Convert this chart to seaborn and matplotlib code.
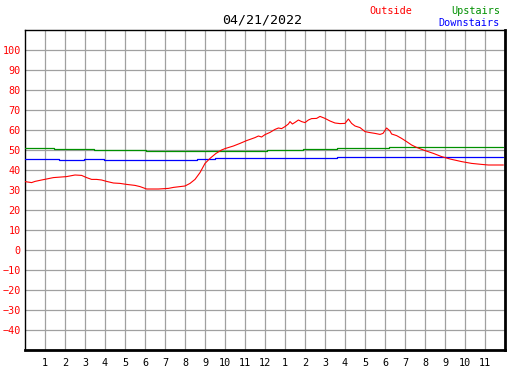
import matplotlib
matplotlib.use("Agg")
import matplotlib.pyplot as plt
import seaborn as sns
import pandas as pd

W, H = 527, 370
DPI = 100

# hours since midnight, values in deg F
outside_hours = [0.0, 0.33, 0.5, 0.83, 1.08, 1.42, 2.08, 2.5, 2.83, 3.08, 3.33, 3.58, 3.83,
                 4.08, 4.42, 4.75, 5.08, 5.5, 5.75, 6.08, 6.67, 7.17, 7.42, 8.0, 8.25, 8.5,
                 8.75, 9.0, 9.25, 9.55, 9.83, 10.0, 10.42, 10.75, 11.08, 11.5, 11.67, 11.83,
                 12.0, 12.25, 12.5, 12.67, 12.83, 13.0, 13.17, 13.25, 13.37, 13.5, 13.67,
                 13.83, 14.0, 14.17, 14.33, 14.58, 14.75, 15.0, 15.25, 15.5, 15.75, 16.0,
                 16.17, 16.33, 16.5, 16.75, 17.0, 17.25, 17.5, 17.75, 17.9, 18.08, 18.25,
                 18.33, 18.58, 18.83, 19.08, 19.33, 19.58, 20.0, 20.42, 20.83, 21.25, 21.83,
                 22.33, 22.83, 23.17, 23.92]
outside = [34.2, 33.7, 34.3, 35.0, 35.5, 36.2, 36.7, 37.5, 37.3, 36.2, 35.3, 35.3, 35.0,
           34.3, 33.5, 33.3, 32.8, 32.3, 31.7, 30.5, 30.5, 30.8, 31.3, 32.0, 33.3, 35.3,
           38.7, 43.3, 45.8, 48.3, 50.0, 50.7, 52.0, 53.3, 54.7, 56.2, 57.0, 56.5,
           57.7, 58.8, 60.3, 61.0, 60.7, 61.7, 63.0, 64.2, 63.0, 63.8, 65.0,
           64.2, 63.7, 65.0, 65.7, 65.8, 66.8, 65.8, 64.5, 63.5, 63.2, 63.3,
           65.5, 63.3, 62.0, 61.2, 59.2, 58.7, 58.3, 57.8, 58.3, 61.0, 59.5,
           58.0, 57.2, 55.8, 54.2, 52.5, 51.3, 49.7, 48.3, 46.7, 45.5, 44.2,
           43.3, 42.8, 42.5, 42.5]

upstairs_hours = [0.0, 1.45, 3.45, 6.05, 12.08, 13.9, 15.6, 18.2, 23.92]
upstairs = [51.0, 50.5, 50.0, 49.5, 50.0, 50.5, 51.0, 51.7, 51.7]

downstairs_hours = [0.0, 1.72, 2.95, 3.95, 8.6, 9.5, 11.75, 15.6, 23.92]
downstairs = [45.3, 44.8, 45.3, 44.8, 45.3, 45.8, 46.2, 46.7, 46.7]

hour_ticks = list(range(1, 24))
hour_labels = [str(h if h <= 12 else h - 12) for h in hour_ticks]
y_ticks = list(range(-40, 101, 10))

title = "04/21/2022"
RED, GREEN, BLUE = "#ff0000", "#009000", "#0000ff"
FONT = "DejaVu Sans Mono"

sns.set_style("white")
plt.rcParams["font.family"] = FONT

fig = plt.figure(figsize=(W / DPI, H / DPI), dpi=DPI)
ax = fig.add_axes([25 / W, 1 - 350 / H, 480 / W, 320 / H])

df_out = pd.DataFrame({"hour": outside_hours, "temp": outside})
df_up = pd.DataFrame({"hour": upstairs_hours, "temp": upstairs})
df_down = pd.DataFrame({"hour": downstairs_hours, "temp": downstairs})

sns.lineplot(data=df_up, x="hour", y="temp", ax=ax, color=GREEN, lw=0.9,
             drawstyle="steps-post", estimator=None, zorder=3)
sns.lineplot(data=df_down, x="hour", y="temp", ax=ax, color=BLUE, lw=0.9,
             drawstyle="steps-post", estimator=None, zorder=3)
sns.lineplot(data=df_out, x="hour", y="temp", ax=ax, color=RED, lw=0.8,
             estimator=None, zorder=4)

ax.set_xlim(0, 24)
ax.set_ylim(-50, 110)
ax.set_xticks(hour_ticks)
ax.set_xticklabels(hour_labels)
ax.set_yticks(y_ticks)
ax.set_xlabel("")
ax.set_ylabel("")

ax.grid(True, color="#a0a0a0", lw=0.9)
ax.set_axisbelow(True)
ax.tick_params(axis="both", direction="in", length=4, width=1.2, color="black",
               labelsize=7.3)
ax.tick_params(axis="y", labelcolor=RED, pad=3)
ax.tick_params(axis="x", labelcolor="black", pad=6)

for side in ["left", "top"]:
    ax.spines[side].set_color("black")
    ax.spines[side].set_linewidth(1.0)
for side in ["right", "bottom"]:
    ax.spines[side].set_color("black")
    ax.spines[side].set_linewidth(2.0)

fig.text(262 / W, 1 - 20 / H, title, ha="center", va="center", fontsize=9.5, color="black")
fig.text(369 / W, 1 - 11 / H, "Outside", ha="left", va="center", fontsize=7.3, color=RED)
fig.text(500 / W, 1 - 11 / H, "Upstairs", ha="right", va="center", fontsize=7.3, color=GREEN)
fig.text(500 / W, 1 - 23 / H, "Downstairs", ha="right", va="center", fontsize=7.3, color=BLUE)

fig.savefig("out.png", dpi=DPI)
plt.close(fig)
